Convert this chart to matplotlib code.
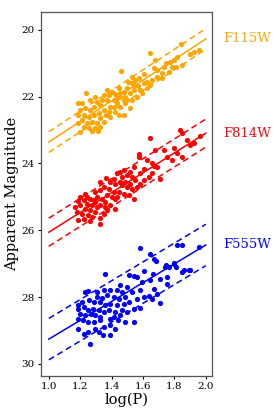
import matplotlib
matplotlib.use("Agg")
import matplotlib.pyplot as plt
import numpy as np

plt.rcParams['font.family'] = 'DejaVu Serif'

# F115W points (logP, mag)
f115_logp = [1.643, 1.679, 1.840, 1.898, 1.957, 1.796, 1.849, 1.811, 1.747, 1.766,
             1.721, 1.689, 1.604, 1.626, 1.657, 1.460, 1.551, 1.530, 1.502, 1.566,
             1.583, 1.498, 1.477, 1.445, 1.423, 1.451, 1.402, 1.381, 1.370, 1.413,
             1.391, 1.434, 1.477, 1.519, 1.481, 1.338, 1.328, 1.306, 1.238, 1.185,
             1.285, 1.349, 1.317, 1.264, 1.232, 1.200, 1.189, 1.221, 1.253, 1.285,
             1.328, 1.366, 1.211, 1.243, 1.274, 1.306, 1.189, 1.221, 1.253, 1.296,
             1.328, 1.349, 1.391, 1.423, 1.455, 1.487, 1.530, 1.562, 1.594, 1.540,
             1.519, 1.487, 1.455, 1.434, 1.647, 1.689, 1.732, 1.785, 1.817, 1.923,
             1.774, 1.721, 1.668, 1.572, 1.530, 1.540, 1.264, 1.296, 1.370, 1.349,
             1.200, 1.274, 1.311, 1.413, 1.381, 1.445, 1.498, 1.626, 1.604, 1.211]
f115_mag = [20.68, 20.90, 20.43, 20.72, 20.60, 20.90, 21.05, 21.10, 21.00, 21.25,
            21.30, 21.20, 21.32, 21.55, 21.50, 21.22, 21.50, 21.60, 21.55, 21.68,
            21.80, 21.75, 21.85, 21.75, 21.92, 22.00, 21.85, 21.95, 22.10, 22.10,
            22.30, 22.20, 22.10, 22.35, 22.55, 22.10, 22.25, 22.15, 21.88, 22.18,
            22.30, 22.40, 22.50, 22.40, 22.35, 22.40, 22.55, 22.55, 22.60, 22.55,
            22.65, 22.55, 22.70, 22.80, 22.75, 22.80, 22.80, 22.90, 22.95, 22.95,
            22.90, 22.75, 22.60, 22.45, 22.30, 22.20, 22.10, 22.00, 21.90, 21.80,
            21.90, 22.00, 21.90, 22.05, 21.65, 21.40, 21.10, 21.10, 20.80, 20.65,
            20.95, 21.45, 21.15, 21.45, 21.42, 21.65, 22.10, 22.00, 21.80, 21.95,
            23.05, 23.02, 23.02, 22.30, 22.45, 22.55, 22.10, 21.75, 21.60, 22.20]

# F814W points
f814_logp = [1.643, 1.838, 1.849, 1.962, 1.902, 1.800, 1.817, 1.849, 1.753, 1.736,
             1.679, 1.657, 1.711, 1.668, 1.626, 1.572, 1.604, 1.540, 1.515, 1.530,
             1.481, 1.498, 1.466, 1.434, 1.455, 1.487, 1.519, 1.551, 1.562, 1.530,
             1.498, 1.466, 1.423, 1.413, 1.391, 1.366, 1.328, 1.349, 1.381, 1.413,
             1.445, 1.477, 1.540, 1.509, 1.583, 1.434, 1.402, 1.370, 1.328, 1.296,
             1.306, 1.338, 1.360, 1.391, 1.423, 1.328, 1.296, 1.264, 1.232, 1.200,
             1.189, 1.221, 1.243, 1.274, 1.306, 1.200, 1.232, 1.264, 1.296, 1.179,
             1.211, 1.247, 1.183, 1.260, 1.328, 1.323, 1.221, 1.370, 1.349, 1.572,
             1.636, 1.689, 1.783, 1.881, 1.923, 1.604, 1.455, 1.423, 1.168, 1.243,
             1.274, 1.360, 1.285, 1.583, 1.657]
f814_mag = [23.25, 23.00, 23.10, 23.18, 23.45, 23.55, 23.68, 23.80, 23.80, 23.60,
            23.60, 24.00, 24.45, 24.08, 23.90, 23.72, 24.18, 24.10, 24.25, 24.40,
            24.20, 24.35, 24.40, 24.30, 24.55, 24.55, 24.60, 24.50, 24.70, 24.75,
            24.70, 24.65, 24.60, 24.45, 24.55, 24.43, 24.55, 24.70, 24.75, 24.85,
            24.85, 24.90, 25.05, 24.95, 24.60, 25.00, 25.00, 24.95, 24.80, 24.85,
            25.00, 25.05, 25.15, 25.25, 25.35, 25.25, 25.15, 25.05, 24.90, 25.00,
            25.12, 25.10, 25.20, 25.25, 25.30, 25.25, 25.35, 25.40, 25.45, 25.45,
            25.50, 25.55, 25.68, 25.72, 25.62, 25.82, 25.65, 25.40, 25.50, 23.80,
            24.40, 24.10, 23.90, 23.30, 23.40, 24.50, 24.25, 25.05, 25.30, 25.00,
            25.60, 25.30, 25.10, 24.30, 24.30]

# F555W points
f555_logp = [1.579, 1.643, 1.672, 1.685, 1.749, 1.796, 1.817, 1.849, 1.891, 1.955,
             1.764, 1.807, 1.860, 1.360, 1.511, 1.543, 1.564, 1.606, 1.738, 1.753,
             1.796, 1.849, 1.898, 1.662, 1.706, 1.594, 1.643, 1.711, 1.636, 1.579,
             1.543, 1.543, 1.564, 1.530, 1.498, 1.455, 1.466, 1.434, 1.391, 1.349,
             1.306, 1.247, 1.232, 1.306, 1.338, 1.370, 1.413, 1.445, 1.487, 1.509,
             1.477, 1.434, 1.391, 1.360, 1.328, 1.285, 1.253, 1.211, 1.183, 1.189,
             1.221, 1.247, 1.281, 1.317, 1.349, 1.381, 1.423, 1.466, 1.498, 1.455,
             1.413, 1.391, 1.328, 1.296, 1.266, 1.232, 1.200, 1.183, 1.217, 1.247,
             1.285, 1.323, 1.183, 1.247, 1.226, 1.296, 1.317, 1.345, 1.389, 1.423,
             1.391, 1.349, 1.264, 1.583, 1.604, 1.668, 1.753, 1.657, 1.689, 1.438,
             1.487]
f555_mag = [26.52, 26.70, 26.85, 26.93, 27.05, 26.98, 26.43, 26.45, 27.20, 26.50,
            27.10, 27.10, 27.20, 27.30, 27.35, 27.38, 27.40, 27.22, 27.10, 27.40,
            27.02, 27.25, 27.20, 27.30, 27.45, 27.55, 27.50, 28.17, 27.98, 28.33,
            28.35, 28.75, 28.05, 27.85, 27.70, 27.65, 27.85, 27.80, 27.78, 27.80,
            27.85, 27.82, 27.86, 28.00, 28.02, 27.95, 28.00, 28.05, 28.00, 28.15,
            28.20, 28.25, 28.20, 28.25, 28.15, 28.15, 28.10, 28.15, 28.25, 28.35,
            28.30, 28.40, 28.35, 28.40, 28.45, 28.40, 28.45, 28.40, 28.45, 28.55,
            28.60, 28.65, 28.60, 28.55, 28.50, 28.55, 28.50, 28.65, 28.70, 28.75,
            28.75, 28.70, 28.95, 29.05, 29.10, 28.95, 29.05, 29.15, 29.15, 28.95,
            28.85, 28.90, 29.42, 27.80, 28.00, 27.75, 27.60, 28.05, 27.90, 28.70,
            28.75]

# PL fits: mag at logP=1 and at logP=2, scatter band width
bands = ['F115W', 'F814W', 'F555W']
colors = ['orange', 'red', 'blue']
fit_start = [23.36, 26.06, 29.26]
fit_end = [20.27, 23.09, 26.44]
sigma = [0.31, 0.42, 0.62]

fig = plt.figure(figsize=(2.73, 4.09), dpi=100)
ax = fig.add_axes([0.150, 0.081, 0.627, 0.890])

pts = [(f115_logp, f115_mag), (f814_logp, f814_mag), (f555_logp, f555_mag)]
xl = np.array([1.0, 2.0])
for i in range(3):
    ax.scatter(pts[i][0], pts[i][1], s=14, color=colors[i], linewidths=0)
    yl = np.array([fit_start[i], fit_end[i]])
    ax.plot(xl, yl, color=colors[i], lw=1.1)
    ax.plot(xl, yl - sigma[i], color=colors[i], lw=1.1, ls='--', dashes=(4, 2.5))
    ax.plot(xl, yl + sigma[i], color=colors[i], lw=1.1, ls='--', dashes=(4, 2.5))
    ax.text(2.11, fit_end[i], bands[i], color=colors[i], fontsize=9.5,
            va='center', ha='left', clip_on=False)

ax.set_xlim(0.95, 2.04)
ax.set_ylim(30.36, 19.46)
ax.set_xticks([1.0, 1.2, 1.4, 1.6, 1.8, 2.0])
ax.set_yticks([20, 22, 24, 26, 28, 30])
ax.tick_params(labelsize=7.5, length=2.5, width=0.8, pad=2)
for s in ax.spines.values():
    s.set_color('#555555')
    s.set_linewidth(0.9)
ax.set_xlabel('log(P)', fontsize=10.5, labelpad=1)
ax.set_ylabel('Apparent Magnitude', fontsize=10.5, labelpad=2)

fig.savefig('out.png', dpi=100)
